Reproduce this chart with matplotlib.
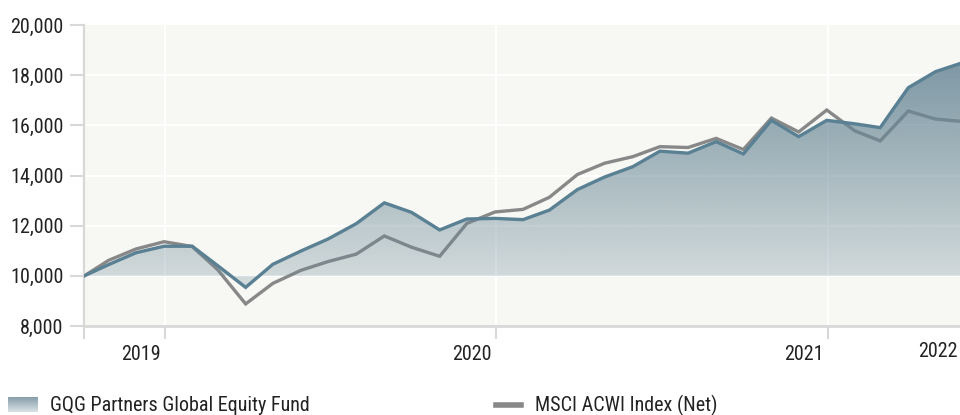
import numpy as np
import pandas as pd
import matplotlib
matplotlib.use("Agg")
import matplotlib.pyplot as plt
import matplotlib.dates as mdates
from matplotlib.lines import Line2D
from matplotlib.ticker import FuncFormatter, FixedLocator
import matplotlib.transforms as mtransforms
from matplotlib import font_manager as fm
import os

# pick a condensed font if one is installed
chosen = None
prefs = ["LiberationSansNarrow-Regular", "RobotoCondensed-Regular", "Roboto_Condensed-Regular",
         "OpenSans_Condensed-Regular", "OpenSansCondensed-Regular", "DejaVuSansCondensed.ttf",
         "DejaVuSansCondensed"]
files = fm.findSystemFonts()
for p in prefs:
    for f in files:
        if os.path.basename(f).startswith(p) and "Bold" not in os.path.basename(f) and "Oblique" not in os.path.basename(f):
            try:
                fm.fontManager.addfont(f)
                chosen = fm.FontProperties(fname=f).get_name()
            except Exception:
                chosen = None
            break
    if chosen:
        break
if chosen:
    plt.rcParams['font.family'] = [chosen, 'DejaVu Sans']
else:
    plt.rcParams['font.family'] = ['DejaVu Sans']
if chosen == 'DejaVu Sans':
    plt.rcParams['font.stretch'] = 'condensed'

# ---- data ----
start_date = "2018-10-04"
month_ends = pd.date_range("2018-10-31", "2021-05-31", freq="ME")
dates = [pd.Timestamp(start_date)] + list(month_ends)

fund = [10000, 10450, 10920, 11180, 11180, 10410, 9540, 10460, 10990, 11470,
        12080, 12910, 12530, 11830, 12265, 12290, 12240, 12620, 13440, 13940,
        14350, 14970, 14890, 15350, 14860, 16200, 15550, 16200, 16060, 15910,
        17500, 18140, 18510]
index = [10000, 10620, 11070, 11360, 11170, 10250, 8880, 9700, 10220, 10570,
         10865, 11590, 11140, 10780, 12090, 12545, 12650, 13130, 14040, 14490,
         14750, 15150, 15115, 15480, 15035, 16290, 15735, 16610, 15780, 15380,
         16570, 16250, 16150]
series_names = ["GQG Partners Global Equity Fund", "MSCI ACWI Index (Net)"]
year_ticks = ["2019-01-01", "2020-01-01", "2021-01-01"]
year_labels = ["2019", "2020", "2021"]
end_label = "2022"
baseline = 10000
y_ticks = [8000, 10000, 12000, 14000, 16000, 18000, 20000]

# ---- styling ----
BG = "#F7F7F3"
BLUE = "#5a8093"
GREY = "#888888"
FILL_C = np.array([104, 135, 150]) / 255
A_TOP, A_BOT = 0.85, 0.24
FS = 14.5
TXT = "#222222"

W, H = 960, 415
fig = plt.figure(figsize=(W / 100, H / 100), dpi=100)
left_px, right_px, top_px, bot_px = 84.3, 960, 25, 326
ax = fig.add_axes([left_px / W, (H - bot_px) / H, (right_px - left_px) / W, (bot_px - top_px) / H])
ax.set_facecolor(BG)

x = mdates.date2num(dates)
xmin = mdates.date2num(pd.Timestamp(start_date))
xmax = mdates.date2num(pd.Timestamp("2021-05-27"))

# grey index line (under the translucent fill)
ax.plot(x, index, color=GREY, lw=2.4, zorder=2, solid_joinstyle='miter')

# gradient fill between baseline and fund
poly = ax.fill_between(x, baseline, fund, facecolor='none', edgecolor='none', zorder=3)
ytop = max(fund)
ybot = min(min(fund), baseline)
n = 256
t = np.linspace(0, 1, n)[:, None]  # 0 bottom -> 1 top
alphas = A_BOT * (1 - t) + A_TOP * t
grad = np.concatenate([np.repeat(FILL_C[None, :], n, axis=0), alphas], axis=1)[:, None, :]
img = ax.imshow(grad, extent=[x[0], x[-1], ybot, ytop], aspect='auto', origin='lower',
                zorder=3, interpolation='bilinear')
img.set_clip_path(poly.get_paths()[0], transform=ax.transData)

# fund line
ax.plot(x, fund, color=BLUE, lw=2.4, zorder=4, solid_joinstyle='miter')

ax.set_xlim(xmin, xmax)
ax.set_ylim(8000, 20000)

# grid
for yv in y_ticks[1:-1]:
    ax.axhline(yv, color='white', lw=1.6, zorder=1)
yt_nums = [mdates.date2num(pd.Timestamp(d)) for d in year_ticks]
for xv in yt_nums:
    ax.axvline(xv, color='white', lw=1.6, zorder=1)

# spines
for s in ['top', 'right']:
    ax.spines[s].set_visible(False)
ax.spines['left'].set_color('#d8d8d8')
ax.spines['left'].set_linewidth(1.6)
ax.spines['bottom'].set_color('#d8d8d8')
ax.spines['bottom'].set_linewidth(2)

# y ticks
ax.set_yticks(y_ticks)
ax.yaxis.set_major_formatter(FuncFormatter(lambda v, p: f"{int(v):,}"))
ax.tick_params(axis='y', length=10, width=1.5, color='#d8d8d8', pad=5,
               labelsize=FS, labelcolor=TXT)

# x ticks
ax.xaxis.set_major_locator(FixedLocator([xmin] + yt_nums))
ax.set_xticklabels([""] + year_labels)
ax.tick_params(axis='x', length=9, width=1.5, color='#d8d8d8', pad=5,
               labelsize=FS, labelcolor=TXT)
offset = mtransforms.ScaledTranslation(-4 / 100, 0, fig.dpi_scale_trans)
for lab in ax.get_xticklabels():
    lab.set_horizontalalignment('right')
    lab.set_transform(lab.get_transform() + offset)

fig.text(958 / W, 1 - 351 / H, end_label, ha='right', va='center', fontsize=FS, color=TXT)

# legend
sw = fig.add_axes([8 / W, 1 - 412 / H, 30 / W, 15 / H])
sw.imshow(grad, aspect='auto', origin='lower', extent=[0, 1, 0, 1], interpolation='bilinear')
sw.set_axis_off()
fig.text(50 / W, 1 - 405 / H, series_names[0], ha='left', va='center', fontsize=FS, color=TXT)
fig.add_artist(Line2D([496 / W, 521 / W], [1 - 405 / H, 1 - 405 / H], color=GREY, lw=4,
                      transform=fig.transFigure))
fig.text(535 / W, 1 - 405 / H, series_names[1], ha='left', va='center', fontsize=FS, color=TXT)

fig.savefig("out.png", dpi=100, facecolor='white')
